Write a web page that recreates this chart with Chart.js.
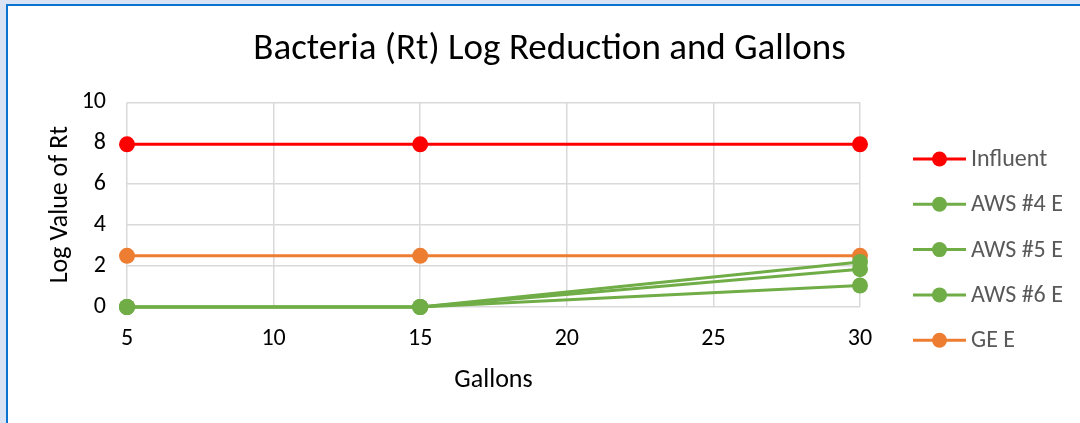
<!DOCTYPE html>
<html>
<head>
<meta charset="utf-8">
<script src="https://cdn.jsdelivr.net/npm/chart.js@4"></script>
<style>
  body { margin: 0; background: #dae3f3; width: 1080px; height: 423px; overflow: hidden; position: relative; }
  #frame { position: absolute; left: 6px; top: 4px; width: 1100px; height: 450px; background: #fff;
           border-left: 2px solid #0a74d0; border-top: 2px solid #0a74d0; }
  #wrap { position: absolute; left: 0; top: 0; width: 1080px; height: 423px; }
</style>
</head>
<body>
<div id="frame"></div>
<div id="wrap"><canvas id="chart" width="1080" height="423"></canvas></div>
<script>
const gallons = [5, 15, 30];
const seriesNames = ['Influent', 'AWS #4 E', 'AWS #5 E', 'AWS #6 E', 'GE E'];
const influent = [7.95, 7.95, 7.95];
const aws4 = [0, 0, 2.2];
const aws5 = [0, 0, 1.85];
const aws6 = [0, 0, 1.05];
const geE = [2.5, 2.5, 2.5];
const seriesColors = ['#ff0000', '#70ad47', '#70ad47', '#70ad47', '#ed7d31'];

const FONT = 'Carlito, Calibri, Lato, sans-serif';

const values = [influent, aws4, aws5, aws6, geE];
const datasets = values.map((vals, i) => ({
    label: seriesNames[i],
    data: vals.map((v, j) => ({ x: gallons[j], y: v })),
    borderColor: seriesColors[i],
    backgroundColor: seriesColors[i],
    borderWidth: 3,
    pointRadius: 8,
    pointHoverRadius: 8,
    pointBorderWidth: 0,
    clip: false,
    tension: 0
}));

// legend on the right, as its own layout box (Excel style: line + dot)
const sideLegend = {
    id: 'sideLegend',
    beforeInit(chart) {
        const box = {
            position: 'right',
            weight: 0,
            fullSize: false,
            options: {},
            width: 0, height: 0, top: 0, left: 0, right: 0, bottom: 0,
            update(maxWidth, maxHeight) {
                this.width = 220;
                this.height = maxHeight;
            },
            isHorizontal() { return false; },
            draw() {
                const ctx = chart.ctx;
                ctx.save();
                ctx.font = '24px ' + FONT;
                ctx.textBaseline = 'middle';
                chart.data.datasets.forEach((d, i) => {
                    const y = 159 + i * 45.3;
                    const x0 = this.left + 53;
                    ctx.strokeStyle = d.borderColor;
                    ctx.lineWidth = 3;
                    ctx.beginPath();
                    ctx.moveTo(x0, y);
                    ctx.lineTo(x0 + 53, y);
                    ctx.stroke();
                    ctx.fillStyle = d.backgroundColor;
                    ctx.beginPath();
                    ctx.arc(x0 + 26.5, y, 7.5, 0, Math.PI * 2);
                    ctx.fill();
                    ctx.fillStyle = '#595959';
                    ctx.fillText(d.label, x0 + 58, y + 1);
                });
                ctx.restore();
            }
        };
        Chart.layouts.addBox(chart, box);
    }
};

new Chart(document.getElementById('chart'), {
    type: 'line',
    data: { datasets },
    plugins: [sideLegend],
    options: {
        responsive: false,
        animation: false,
        layout: { padding: { left: 19, right: 0, top: 0, bottom: 0 } },
        plugins: {
            title: {
                display: true,
                text: 'Bacteria (Rt) Log Reduction and Gallons',
                color: '#000',
                font: { family: FONT, size: 37, weight: 'normal' },
                padding: { top: 28, bottom: 30 }
            },
            legend: { display: false },
            tooltip: { enabled: false }
        },
        scales: {
            x: {
                type: 'linear',
                min: 5,
                max: 30,
                afterFit: s => { s.height = 116; },
                ticks: { stepSize: 5, color: '#000', font: { family: FONT, size: 24 }, padding: 18 },
                grid: { color: '#d9d9d9', lineWidth: 1.5, drawTicks: false },
                border: { display: false },
                title: { display: true, text: 'Gallons', color: '#000', font: { family: FONT, size: 26 }, padding: { bottom: 27 } }
            },
            y: {
                min: 0,
                max: 10,
                afterFit: s => { s.width = 108; },
                ticks: { stepSize: 2, color: '#000', font: { family: FONT, size: 24 }, padding: 21 },
                grid: { color: '#d9d9d9', lineWidth: 1.5, drawTicks: false },
                border: { display: false },
                title: { display: true, text: 'Log Value of Rt', color: '#000', font: { family: FONT, size: 26 }, padding: { top: 26 } }
            }
        }
    }
});
</script>
</body>
</html>
